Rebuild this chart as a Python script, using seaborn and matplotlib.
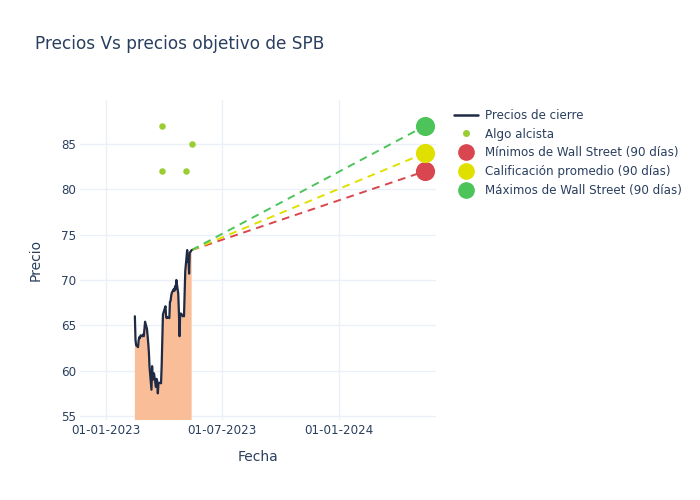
"""
Precios vs precios objetivo de SPB
"""
import numpy as np
import pandas as pd
import matplotlib
matplotlib.use('Agg')
import matplotlib.pyplot as plt
import matplotlib.dates as mdates
from matplotlib.lines import Line2D
import seaborn as sns

# Closing prices (business days 15-02-2023 .. 15-05-2023)
price_start = '2023-02-15'
price_end = '2023-05-15'
closing_prices = [
    66.0, 63.4, 62.8, 62.6, 63.4, 63.7, 63.6, 63.9, 63.8, 64.0,
    63.8, 64.6, 65.4, 64.6, 63.8, 63.0, 62.0, 60.4, 57.9, 60.5,
    59.0, 59.3, 59.7, 58.2, 59.1, 58.9, 57.5, 58.6, 58.7, 58.6,
    60.5, 63.4, 66.2, 66.9, 67.1, 65.9, 65.8, 65.9, 65.8, 67.6,
    67.7, 68.3, 68.6, 69.0, 68.8, 69.3, 69.0, 70.0, 68.5, 66.5,
    63.8, 66.3, 66.3, 66.0, 66.2, 66.0, 68.5, 71.0, 73.3, 72.0,
    72.5, 70.7, 73.0, 73.3,
]

# Analyst "Algo alcista" ratings
algo_dates = ['2023-03-30', '2023-03-30', '2023-05-06', '2023-05-15']
algo_targets = [87, 82, 82, 85]

# Wall Street 90-day targets, one year ahead
target_date = '2024-05-15'
target_labels = ['Mínimos de Wall Street (90 días)',
                 'Calificación promedio (90 días)',
                 'Máximos de Wall Street (90 días)']
target_values = [82, 84, 87]
target_colors = ['#d9464f', '#e0e000', '#4cc45a']

TEXT = '#2a3f5f'
GRID = '#ebf0f8'


def main():
    sns.set_theme(style='whitegrid')
    plt.rcParams['font.family'] = ['DejaVu Sans']

    dates = pd.bdate_range(price_start, price_end)
    df = pd.DataFrame({'Fecha': dates, 'Precio': closing_prices})
    algo = pd.DataFrame({'Fecha': pd.to_datetime(algo_dates), 'Precio': algo_targets})

    fig = plt.figure(figsize=(7, 5), dpi=100)
    ax = fig.add_axes([80 / 700, 80 / 500, 356 / 700, 320 / 500])
    ax.set_facecolor('white')

    ax.fill_between(df['Fecha'], df['Precio'], 0, color='#f9bd98', linewidth=0, zorder=1)
    sns.lineplot(data=df, x='Fecha', y='Precio', ax=ax, color='#1f2a44',
                 linewidth=1.6, zorder=3, legend=False)

    last_date = df['Fecha'].iloc[-1]
    last_price = df['Precio'].iloc[-1]
    for val, col in zip(target_values, target_colors):
        ax.plot([last_date, pd.Timestamp(target_date)], [last_price, val],
                color=col, linestyle=(0, (4, 3)), linewidth=1.4, zorder=2)
        ax.scatter([pd.Timestamp(target_date)], [val], s=190, color=col,
                   zorder=4, linewidths=0)

    sns.scatterplot(data=algo, x='Fecha', y='Precio', ax=ax, color='#9acd32',
                    s=22, linewidth=0, zorder=5, legend=False)

    ax.set_xlim(pd.Timestamp('2022-11-21'), pd.Timestamp('2024-06-01'))
    ax.set_ylim(54.56, 89.85)
    ax.set_yticks([55, 60, 65, 70, 75, 80, 85])
    ax.set_xticks([pd.Timestamp('2023-01-01'), pd.Timestamp('2023-07-01'),
                   pd.Timestamp('2024-01-01')])
    ax.xaxis.set_major_formatter(mdates.DateFormatter('%d-%m-%Y'))

    ax.grid(True, color=GRID, linewidth=1)
    for s in ax.spines.values():
        s.set_visible(False)
    ax.tick_params(axis='both', labelsize=8.6, colors=TEXT, length=0, pad=3)
    ax.set_xlabel('Fecha', fontsize=10, color=TEXT, labelpad=9)
    ax.set_ylabel('Precio', fontsize=10, color=TEXT, labelpad=13)

    fig.text(35 / 700, 1 - 44 / 500, 'Precios Vs precios objetivo de SPB',
             fontsize=12.2, color=TEXT, va='center', ha='left')

    handles = [Line2D([0], [0], color='#1f2a44', linewidth=1.8),
               Line2D([0], [0], marker='o', color='#9acd32', linestyle='none', markersize=4)]
    for col in target_colors:
        handles.append(Line2D([0], [0], marker='o', color=col, linestyle='none', markersize=11))
    labels = ['Precios de cierre', 'Algo alcista'] + target_labels
    fig.legend(handles, labels, loc='upper left', bbox_to_anchor=(449 / 700, 1 - 104 / 500),
               frameon=False, fontsize=8.6, labelcolor=TEXT, handlelength=2.0,
               handletextpad=0.6, labelspacing=0.48, borderaxespad=0)

    fig.savefig('out.png', dpi=100, facecolor='white')
    plt.close(fig)


if __name__ == '__main__':
    main()
